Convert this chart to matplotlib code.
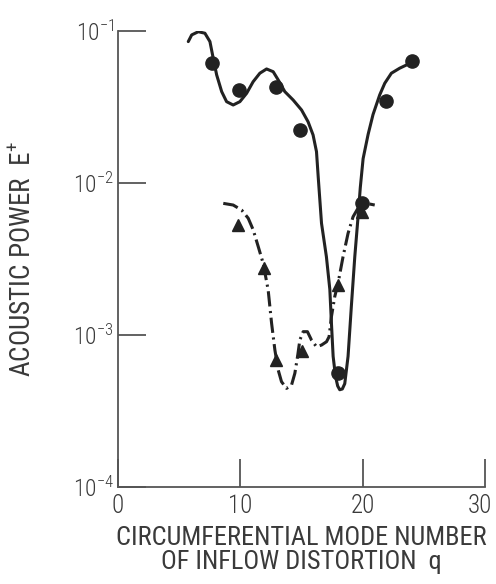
import matplotlib
matplotlib.use("Agg")
import matplotlib.pyplot as plt
import matplotlib.transforms as mtransforms
from matplotlib.ticker import FixedLocator, FixedFormatter, NullLocator

plt.rcParams['font.family'] = ['Roboto Condensed', 'DejaVu Sans']
plt.rcParams['font.weight'] = 'light'

# measured points
circle_q = [7.65, 9.9, 12.9, 14.9, 18.0, 19.9, 21.9, 24.0]
circle_E = [0.0617, 0.0407, 0.0427, 0.0224, 5.65e-4, 7.35e-3, 0.0347, 0.063]

tri_q = [9.8, 11.95, 12.95, 15.0, 18.0, 19.9]
tri_E = [5.3e-3, 2.75e-3, 6.85e-4, 7.8e-4, 2.14e-3, 6.46e-3]

# faired curve through the circles (log10 of E+)
solid_q = [5.74, 6.02, 6.56, 7.10, 7.51, 7.78, 8.06, 8.47, 8.87, 9.41, 9.96,
           10.51, 11.04, 11.59, 12.14, 12.68, 13.09, 13.63, 14.31, 15.00,
           15.53, 15.94, 16.22, 16.36, 16.63, 17.03, 17.31, 17.44, 17.58,
           17.77, 17.95, 18.12, 18.33, 18.53, 18.80, 19.07, 19.35, 19.62,
           19.80, 20.03, 20.44, 20.84, 21.39, 21.80, 22.34, 23.02, 23.57,
           23.97]
solid_logE = [-1.070, -1.026, -1.005, -1.015, -1.070, -1.180, -1.289, -1.399,
              -1.465, -1.487, -1.465, -1.410, -1.334, -1.278, -1.250, -1.268,
              -1.322, -1.399, -1.454, -1.520, -1.597, -1.684, -1.794, -1.960,
              -2.265, -2.485, -2.700, -2.920, -3.140, -3.270, -3.335, -3.360,
              -3.355, -3.320, -3.140, -2.810, -2.485, -2.220, -2.030, -1.840,
              -1.680, -1.550, -1.420, -1.344, -1.278, -1.245, -1.224, -1.197]

# faired curve through the triangles
dash_q = [8.60, 9.41, 10.10, 10.64, 11.05, 11.46, 11.86, 12.27, 12.55, 12.82,
          13.09, 13.36, 13.77, 14.18, 14.45, 14.67, 14.86, 15.13, 15.48,
          15.81, 16.22, 16.63, 17.04, 17.25, 17.44, 17.71, 17.98, 18.39,
          18.80, 19.21, 19.76, 20.30, 20.98]
dash_logE = [-2.134, -2.145, -2.178, -2.232, -2.309, -2.419, -2.528, -2.704,
             -2.923, -3.099, -3.230, -3.307, -3.351, -3.329, -3.252, -3.143,
             -3.033, -2.978, -2.978, -3.033, -3.077, -3.066, -3.044, -3.011,
             -2.880, -2.748, -2.660, -2.485, -2.331, -2.222, -2.145, -2.134,
             -2.145]

x_ticks = [0, 10, 20, 30]
y_ticks = [1e-4, 1e-3, 1e-2, 1e-1]
y_labels = [r'$\mathregular{10^{-4}}$', r'$\mathregular{10^{-3}}$',
            r'$\mathregular{10^{-2}}$', r'$\mathregular{10^{-1}}$']

ink = '#222222'
grey = '#555555'
text_col = '#3a3a3a'

fig = plt.figure(figsize=(4.96, 5.84), dpi=100)
ax = fig.add_axes([0.238, 0.166, 0.740, 0.781])

ax.plot(solid_q, [10 ** v for v in solid_logE], color=ink, lw=2.2,
        solid_joinstyle='round', solid_capstyle='round')
ax.plot(dash_q, [10 ** v for v in dash_logE], color=ink, lw=2.2,
        linestyle=(0, (5, 1.5, 0.7, 1.5)))
ax.plot(circle_q, circle_E, 'o', color=ink, ms=9.5, mec=ink)
ax.plot(tri_q, tri_E, '^', color=ink, ms=9, mec=ink)

ax.set_yscale('log')
ax.set_xlim(0, 30)
ax.set_ylim(1e-4, 1e-1)

ax.xaxis.set_major_locator(FixedLocator(x_ticks))
ax.yaxis.set_major_locator(FixedLocator(y_ticks))
ax.yaxis.set_major_formatter(FixedFormatter(y_labels))
ax.yaxis.set_minor_locator(NullLocator())

for s in ['top', 'right']:
    ax.spines[s].set_visible(False)
for s in ['left', 'bottom']:
    ax.spines[s].set_color(grey)
    ax.spines[s].set_linewidth(1.3)

ax.tick_params(axis='both', direction='in', length=20, width=1.3,
               color=grey, labelcolor=text_col)
ax.tick_params(axis='x', labelsize=18, pad=5)
ax.tick_params(axis='y', labelsize=17, pad=3)

# nudge the last x label so it stays inside the figure edge
last = ax.get_xticklabels()[-1]
last.set_transform(last.get_transform() +
                   mtransforms.ScaledTranslation(-4 / 72, 0, fig.dpi_scale_trans))

ax.set_xlabel('CIRCUMFERENTIAL MODE NUMBER\nOF INFLOW DISTORTION  q',
              fontsize=19, color=text_col, linespacing=1.0, labelpad=6)
ax.set_ylabel(r'ACOUSTIC POWER  $\mathregular{E^{+}}$', fontsize=19.5,
              color=text_col, labelpad=26)

fig.savefig('out.png', dpi=100)
